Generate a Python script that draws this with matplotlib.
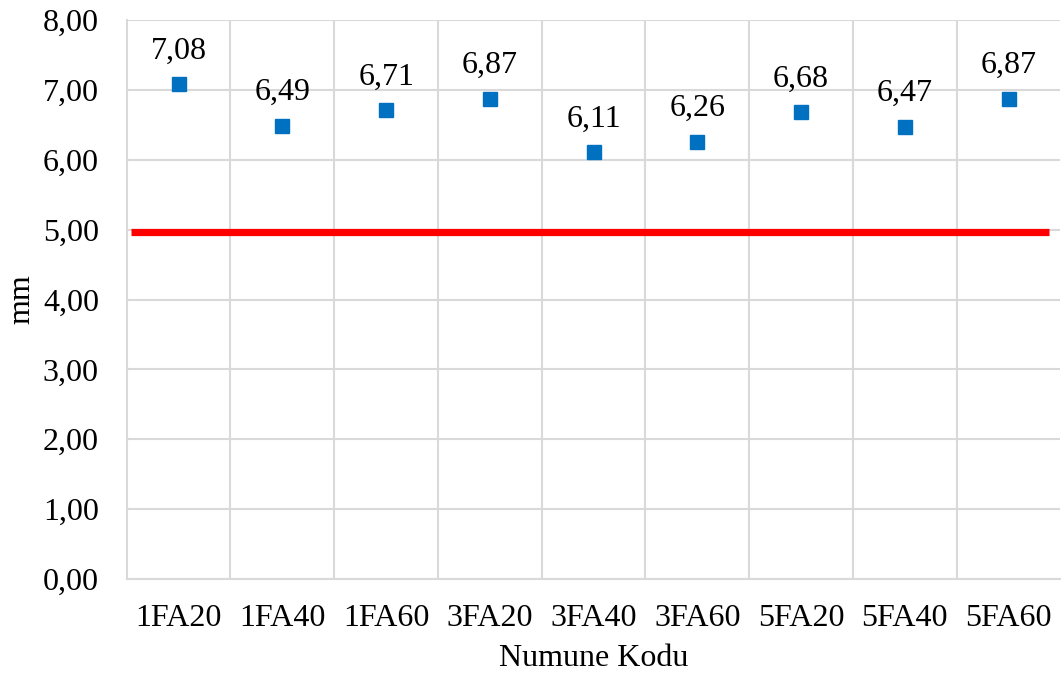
import matplotlib.pyplot as plt

# Numune kodları ve ölçülen değerler (mm)
kodlar = ['1FA20', '1FA40', '1FA60', '3FA20', '3FA40', '3FA60', '5FA20', '5FA40', '5FA60']
degerler = [7.08, 6.49, 6.71, 6.87, 6.11, 6.26, 6.68, 6.47, 6.87]

# Sınır değeri (kırmızı çizgi)
sinir_x = [-0.46, 8.385]
sinir_y = [4.96, 4.96]

yticks = [0, 1, 2, 3, 4, 5, 6, 7, 8]

plt.rcParams['font.family'] = ['Liberation Serif', 'DejaVu Serif']

fig = plt.figure(figsize=(10.61, 6.78), dpi=100)
ax = fig.add_axes([0.1194, 0.146, 0.8801, 0.8245])

x = list(range(len(kodlar)))
ax.plot(sinir_x, sinir_y, color='#FF0000', linewidth=5.2, solid_capstyle='butt', zorder=3)
ax.plot(x, degerler, linestyle='none', marker='s', markersize=10,
        color='#0070C0', zorder=4)

for i, v in enumerate(degerler):
    ax.annotate(f'{v:.2f}'.replace('.', ','), (i, v), xytext=(0, 18.5),
                textcoords='offset points', ha='center', va='baseline', fontsize=23)

ax.set_xlim(-0.5, len(kodlar) - 0.5)
ax.set_ylim(0, 8)
ax.set_yticks(yticks)
ax.set_yticklabels([f'{t:.2f}'.replace('.', ',') for t in yticks])
ax.set_xticks(x)
ax.set_xticklabels(kodlar)
ax.set_xticks([i + 0.5 for i in x[:-1]], minor=True)

ax.grid(axis='y', which='major', color='#D9D9D9', linewidth=1.5)
ax.grid(axis='x', which='minor', color='#D9D9D9', linewidth=1.5)
ax.set_axisbelow(True)

for s in ['top', 'right']:
    ax.spines[s].set_visible(False)
for s in ['left', 'bottom']:
    ax.spines[s].set_color('#D9D9D9')
    ax.spines[s].set_linewidth(1.5)

ax.tick_params(axis='both', which='both', length=0, labelsize=23)
ax.tick_params(axis='x', pad=18)
ax.tick_params(axis='y', pad=20)

ax.set_xlabel('Numune Kodu', fontsize=23, labelpad=8)
ax.set_ylabel('mm', fontsize=23, labelpad=5)

fig.savefig('out.png', dpi=100)
